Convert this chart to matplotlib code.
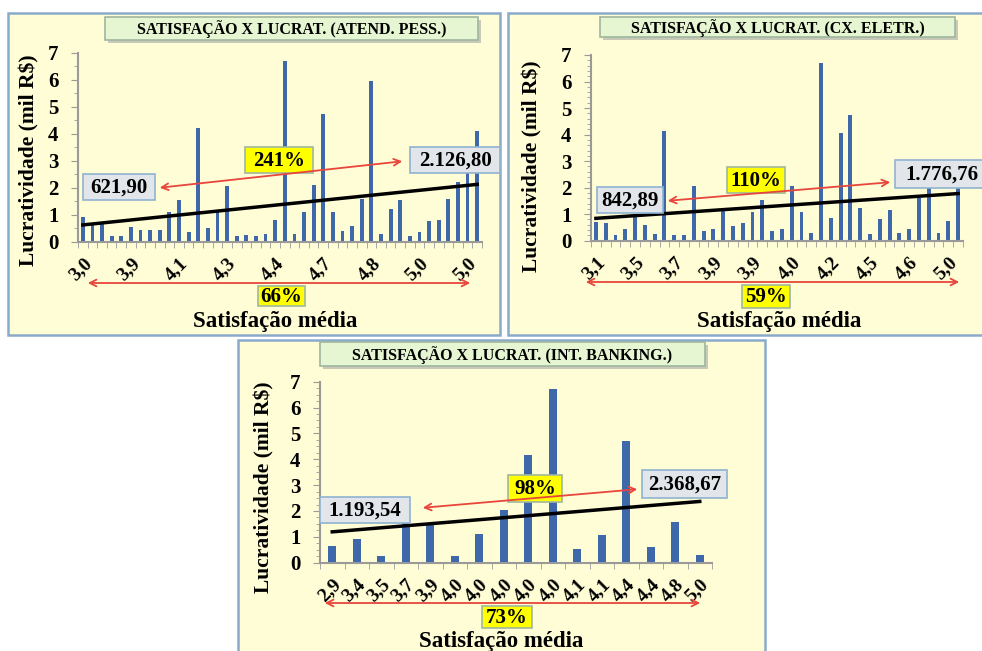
import numpy as np
import matplotlib.pyplot as plt
from matplotlib.patches import Rectangle, FancyArrowPatch
from matplotlib.ticker import MultipleLocator

plt.rcParams['font.family'] = ['Liberation Serif', 'DejaVu Serif']
plt.rcParams['font.weight'] = 'bold'

W, H = 982, 651

# --- dados ---
# atendimento pessoal
lucr_pess = [0.9, 0.65, 0.65, 0.2, 0.2, 0.55, 0.45, 0.45, 0.45, 1.1,
             1.55, 0.35, 4.2, 0.5, 1.1, 2.05, 0.2, 0.25, 0.2, 0.3,
             0.8, 6.7, 0.3, 1.1, 2.1, 4.75, 1.1, 0.4, 0.6, 1.6,
             5.95, 0.3, 1.2, 1.55, 0.2, 0.35, 0.75, 0.8, 1.6, 2.2,
             2.6, 4.1]
rot_pess = ['3,0', '3,9', '4,1', '4,3', '4,4', '4,7', '4,8', '5,0', '5,0']
tend_pess = [0.6219, 2.1268]
txt_pess = ['621,90', '2.126,80', '241%', '66%']

# caixa eletronico
lucr_eletr = [0.7, 0.65, 0.2, 0.45, 0.95, 0.6, 0.25, 4.15, 0.2, 0.2,
              2.05, 0.35, 0.45, 1.15, 0.55, 0.65, 1.1, 1.55, 0.35, 0.45,
              2.05, 1.1, 0.3, 6.7, 0.85, 4.05, 4.75, 1.25, 0.25, 0.8,
              1.15, 0.3, 0.45, 1.6, 2.0, 0.3, 0.75, 2.0]
rot_eletr = ['3,1', '3,5', '3,7', '3,9', '3,9', '4,0', '4,2', '4,5', '4,6', '5,0']
tend_eletr = [0.8429, 1.7768]
txt_eletr = ['842,89', '1.776,76', '110%', '59%']

# internet banking
lucr_bank = [0.65, 0.92, 0.27, 1.52, 1.52, 0.24, 1.1, 2.04, 4.16, 6.7,
             0.52, 1.08, 4.72, 0.62, 1.56, 0.28]
rot_bank = ['2,9', '3,4', '3,5', '3,7', '3,9', '4,0', '4,0', '4,0', '4,0', '4,0',
            '4,1', '4,1', '4,4', '4,4', '4,8', '5,0']
tend_bank = [1.19354, 2.36867]
txt_bank = ['1.193,54', '2.368,67', '98%', '73%']

titulos = ['SATISFAÇÃO X LUCRAT. (ATEND. PESS.)',
           'SATISFAÇÃO X LUCRAT. (CX. ELETR.)',
           'SATISFAÇÃO X LUCRAT. (INT. BANKING.)']

fig = plt.figure(figsize=(W / 100, H / 100), dpi=100)
fig.patch.set_facecolor('white')


def rect(x0, y0, x1, y1, fc, ec, z=5, lw=1.2):
    r = Rectangle((x0 / W, 1 - y1 / H), (x1 - x0) / W, (y1 - y0) / H,
                  transform=fig.transFigure, fc=fc, ec=ec, lw=lw, zorder=z)
    fig.add_artist(r)


def txt(x, y, s, size=14, **kw):
    fig.text(x / W, 1 - y / H, s, ha='center', va='center', fontsize=size,
             fontweight='bold', zorder=10, **kw)


def arrow(p0, p1):
    a = FancyArrowPatch((p0[0] / W, 1 - p0[1] / H), (p1[0] / W, 1 - p1[1] / H),
                        transform=fig.transFigure, arrowstyle='<->',
                        mutation_scale=12, color='#e8453c', lw=1.3, zorder=8)
    fig.add_artist(a)


def painel(lucr, rot, passo, tend, textos, titulo, lay, largura):
    fx0, fy0, fx1, fy1 = lay['frame']
    rect(fx0, fy0, fx1, fy1, '#fffdd6', '#8aaacb', z=-5, lw=1.8)

    # titulo com sombra
    t0, t1, t2, t3 = lay['title']
    rect(t0 + 3, t1 + 3, t2 + 3, t3 + 3, '#c9c9b8', 'none', z=4)
    rect(t0, t1, t2, t3, '#e6f5d2', '#9fb79f', z=5)
    txt((t0 + t2) / 2, (t1 + t3) / 2 + 1, titulo, size=lay['tsize'])

    l, t, r, b = lay['ax']
    ax = fig.add_axes([l / W, 1 - b / H, (r - l) / W, (b - t) / H])
    ax.set_facecolor('none')
    n = len(lucr)
    x = np.arange(n)
    ax.bar(x, lucr, width=largura, color='#3f68ab', zorder=2)
    ax.plot([0, n - 1], tend, color='black', lw=2.5, zorder=3)
    ax.set_xlim(-0.5, n - 0.5)
    ax.set_ylim(0, 7)
    ax.yaxis.set_major_locator(MultipleLocator(1))
    ax.yaxis.set_minor_locator(MultipleLocator(lay['minor']))
    ax.set_xticks(np.arange(len(rot)) * passo)
    ax.set_xticklabels(rot, rotation=45, ha='right', rotation_mode='anchor',
                       fontsize=14, fontweight='bold')
    ax.set_xticks(np.arange(n + 1) - 0.5, minor=True)
    ax.tick_params(axis='x', which='major', length=0, pad=9)
    ax.tick_params(axis='x', which='minor', length=4, color='#9a9a9a')
    ax.tick_params(axis='y', which='major', length=5, color='#9a9a9a',
                   labelsize=15, pad=9)
    ax.tick_params(axis='y', which='minor', length=3, color='#9a9a9a')
    for lab in ax.get_yticklabels():
        lab.set_fontweight('bold')
    for s in ['top', 'right']:
        ax.spines[s].set_visible(False)
    for s in ['left', 'bottom']:
        ax.spines[s].set_color('#9a9a9a')
        ax.spines[s].set_linewidth(1.5)

    # caixas de valores
    b0 = lay['ini']
    rect(*b0, '#e2e6ea', '#8fb3d0')
    txt((b0[0] + b0[2]) / 2, (b0[1] + b0[3]) / 2 + 1, textos[0], size=15)
    b1 = lay['fim']
    rect(*b1, '#e2e6ea', '#8fb3d0')
    txt(lay['fim_txt'], (b1[1] + b1[3]) / 2 + 1, textos[1], size=15)
    b2 = lay['pct']
    rect(*b2, '#ffff00', '#9fb79f', z=6)
    txt((b2[0] + b2[2]) / 2, (b2[1] + b2[3]) / 2 + 1, textos[2], size=15)
    arrow(*lay['seta'])

    arrow(*lay['seta2'])
    b3 = lay['pct2']
    rect(*b3, '#ffff00', '#9fb79f', z=6)
    txt((b3[0] + b3[2]) / 2, (b3[1] + b3[3]) / 2 + 1, textos[3], size=15)

    txt(lay['xlab'][0], lay['xlab'][1], 'Satisfação média', size=16.5)
    txt(lay['ylab'][0], lay['ylab'][1], r'Lucratividade (mil R\$)', size=15.5,
        rotation=90)


lay1 = dict(frame=(8, 13, 500, 335), title=(105, 17, 478, 40), tsize=11.5,
            ax=(78, 53, 482, 241.7), minor=0.5,
            ini=(83, 174, 155, 200), fim=(410, 147, 500, 173), fim_txt=455,
            pct=(245, 147, 313, 173), seta=((157, 188), (405, 161)),
            seta2=((85, 283), (473, 283)), pct2=(258, 286, 305, 306),
            xlab=(275, 321), ylab=(29, 160))
lay2 = dict(frame=(508, 13, 990, 335), title=(600, 17, 955, 37), tsize=11.5,
            ax=(591, 55, 963, 240.7), minor=0.2,
            ini=(597, 187, 663, 213), fim=(895, 160, 990, 188), fim_txt=942,
            pct=(727, 167, 785, 193), seta=((665, 201), (893, 182)),
            seta2=((583, 282), (962, 282)), pct2=(742, 285, 790, 308),
            xlab=(779, 321), ylab=(532, 166))
lay3 = dict(frame=(238, 340, 765, 660), title=(320, 342, 705, 366), tsize=11.5,
            ax=(320, 381.7, 712, 562.7), minor=0.25,
            ini=(320, 497, 410, 523), fim=(642, 470, 727, 498), fim_txt=684.5,
            pct=(508, 475, 562, 502), seta=((420, 508), (640, 489)),
            seta2=((322, 603), (703, 603)), pct2=(482, 606, 532, 628),
            xlab=(501, 642), ylab=(264, 487))

painel(lucr_pess, rot_pess, 5, tend_pess, txt_pess, titulos[0], lay1, 0.4)
painel(lucr_eletr, rot_eletr, 4, tend_eletr, txt_eletr, titulos[1], lay2, 0.4)
painel(lucr_bank, rot_bank, 1, tend_bank, txt_bank, titulos[2], lay3, 0.32)

fig.savefig('out.png', dpi=100)
